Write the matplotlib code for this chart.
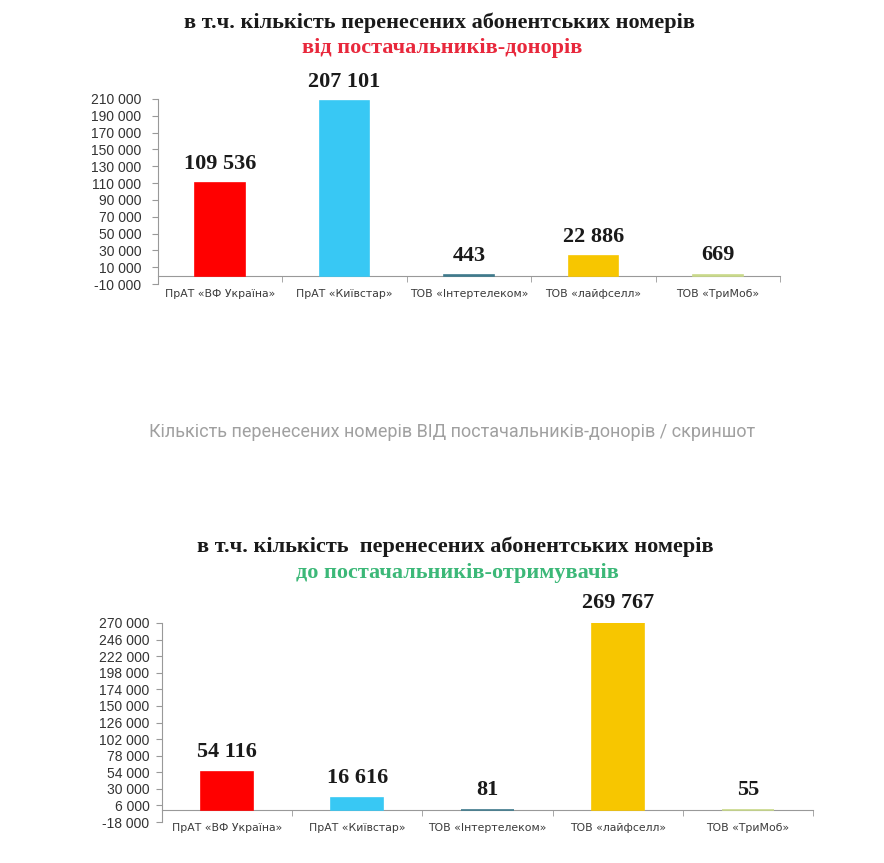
import matplotlib.pyplot as plt
from matplotlib.ticker import FuncFormatter, MultipleLocator, FixedLocator

# Data
operators = ['ПрАТ «ВФ Україна»', 'ПрАТ «Київстар»', 'ТОВ «Інтертелеком»',
             'ТОВ «лайфселл»', 'ТОВ «ТриМоб»']
from_donors = [109536, 207101, 443, 22886, 669]
to_recipients = [54116, 16616, 81, 269767, 55]
colors = ['#ff0000', '#38c8f4', '#3f7a8c', '#f7c600', '#c9d98a']


def fmt_num(v, pos=None):
    s = f'{int(abs(v)):,}'.replace(',', ' ')
    return ('-' if v < 0 else '') + s


def draw_panel(ax, values, ymin, ymax, step, ypad):
    x = range(len(values))
    bars = ax.bar(x, values, width=0.4, color=colors, edgecolor=colors,
                  linewidth=1.2, zorder=3)
    for b, v in zip(bars, values):
        ax.annotate(fmt_num(v), (b.get_x() + b.get_width() / 2, v),
                    xytext=(0, 7), textcoords='offset points',
                    ha='center', va='bottom', fontsize=16, fontweight='bold',
                    family='Liberation Serif', color='#1a1a1a')
    ax.set_xlim(-0.5, len(values) - 0.5)
    ax.set_ylim(ymin, ymax)
    ax.yaxis.set_major_locator(MultipleLocator(step, offset=ymin % step))
    ax.yaxis.set_major_formatter(FuncFormatter(fmt_num))
    ax.set_xticks(list(x))
    ax.set_xticklabels(operators)
    ax.xaxis.set_minor_locator(FixedLocator([i + 0.5 for i in range(-1, len(values))]))
    ax.tick_params(axis='x', which='major', length=0, pad=10, labelsize=7.8,
                   labelcolor='#3a3a3a')
    ax.tick_params(axis='x', which='minor', length=4, color='#999999', direction='out')
    ax.tick_params(axis='y', length=4, color='#999999', labelsize=10,
                   labelcolor='#333333', pad=ypad)
    plt.setp(ax.get_xticklabels() + ax.get_yticklabels(), family='Liberation Sans')
    ax.spines['top'].set_visible(False)
    ax.spines['right'].set_visible(False)
    ax.spines['bottom'].set_position(('data', 0))
    ax.spines['bottom'].set_color('#999999')
    ax.spines['left'].set_color('#999999')


fig = plt.figure(figsize=(8.84, 8.63), dpi=100)

ax1 = fig.add_axes([0.1787, 0.6709, 0.7037, 0.2144])
draw_panel(ax1, from_donors, -10000, 210000, 20000, 8)

ax2 = fig.add_axes([0.1833, 0.0475, 0.7364, 0.2306])
draw_panel(ax2, to_recipients, -18000, 270000, 24000, 5)

title_font = dict(family='Liberation Serif', fontweight='bold', ha='center', va='center')
fig.text(0.4977, 0.9735, 'в т.ч. кількість перенесених абонентських номерів',
         fontsize=16, color='#1a1a1a', **title_font)
fig.text(0.500, 0.9445, 'від постачальників-донорів',
         fontsize=16, color='#e8283c', **title_font)

fig.text(0.511, 0.4994, 'Кількість перенесених номерів ВІД постачальників-донорів / скриншот',
         fontsize=13, color='#a0a0a0', family='Roboto', ha='center', va='center')

fig.text(0.515, 0.3663, 'в т.ч. кількість  перенесених абонентських номерів',
         fontsize=16, color='#1a1a1a', **title_font)
fig.text(0.517, 0.3362, 'до постачальників-отримувачів',
         fontsize=16, color='#3cb878', **title_font)

fig.savefig('out.png', dpi=100)
